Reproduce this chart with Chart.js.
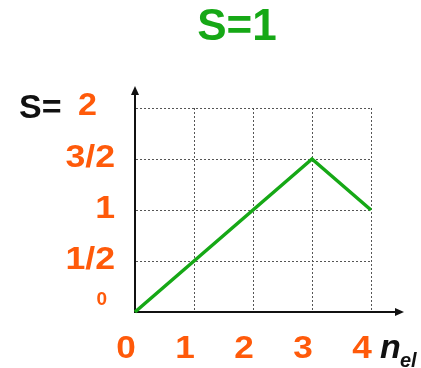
<!DOCTYPE html>
<html>
<head>
<meta charset="utf-8">
<script src="https://cdn.jsdelivr.net/npm/chart.js@4/dist/chart.umd.min.js"></script>
<style>
	html, body { margin: 0; padding: 0; background: #fff; }
	#wrap { width: 421px; height: 368px; }
</style>
</head>
<body>
<div id="wrap"><canvas id="chart" width="421" height="368"></canvas></div>
<script>
// number of electrons vs total spin
const nel = [0, 1, 2, 3, 4];
const spin = [0, 0.5, 1, 1.5, 1];

const xTicks = [0, 1, 2, 3, 4];
const yTicks = [0, 0.5, 1, 1.5, 2];
const yTickLabels = ['0', '1/2', '1', '3/2', '2'];

const titleText = 'S=1';
const yName = 'S=';
const xName = 'n';
const xNameSub = 'el';

const green = '#16a816';
const orange = '#ff5a0a';

// draws arrows, tick labels and the titles with the chart's own scales
const labelsPlugin = {
	id: 'labels',
	afterDraw(chart) {
		const { ctx, chartArea, scales } = chart;
		const x = scales.x;
		const y = scales.y;
		const x0 = x.getPixelForValue(0);
		const y0 = y.getPixelForValue(0);

		ctx.save();

		// axis arrows
		ctx.strokeStyle = '#111';
		ctx.fillStyle = '#111';
		ctx.lineWidth = 2;
		ctx.beginPath();
		ctx.moveTo(x0, chartArea.top);
		ctx.lineTo(x0, chartArea.top - 16);
		ctx.moveTo(chartArea.right, y0);
		ctx.lineTo(chartArea.right + 26, y0);
		ctx.stroke();
		ctx.beginPath();
		ctx.moveTo(x0, chartArea.top - 22);
		ctx.lineTo(x0 - 4, chartArea.top - 13);
		ctx.lineTo(x0 + 4, chartArea.top - 13);
		ctx.closePath();
		ctx.fill();
		ctx.beginPath();
		ctx.moveTo(chartArea.right + 33, y0);
		ctx.lineTo(chartArea.right + 24, y0 - 4);
		ctx.lineTo(chartArea.right + 24, y0 + 4);
		ctx.closePath();
		ctx.fill();

		// title
		ctx.fillStyle = green;
		ctx.font = 'bold 44px "Liberation Sans", Arial, sans-serif';
		ctx.textAlign = 'center';
		ctx.textBaseline = 'middle';
		ctx.fillText(titleText, 237, 28);

		// y tick labels
		ctx.fillStyle = orange;
		ctx.textBaseline = 'middle';
		yTicks.forEach((v, i) => {
			const py = y.getPixelForValue(v);
			const text = yTickLabels[i];
			ctx.save();
			if (v === 0) {
				ctx.font = 'bold 19px "Liberation Sans", Arial, sans-serif';
				ctx.textAlign = 'right';
				ctx.fillText(text, 107, py - 12);
			} else if (v === 2) {
				ctx.font = 'bold 31px "Liberation Sans", Arial, sans-serif';
				ctx.textAlign = 'right';
				ctx.translate(97, py - 2);
				ctx.scale(1.1, 1);
				ctx.fillText(text, 0, 0);
			} else {
				ctx.font = 'bold 31px "Liberation Sans", Arial, sans-serif';
				ctx.textAlign = 'right';
				ctx.translate(115, py - 1);
				ctx.scale(1.15, 1);
				ctx.fillText(text, 0, 0);
			}
			ctx.restore();
		});

		// x tick labels
		ctx.font = 'bold 32px "Liberation Sans", Arial, sans-serif';
		ctx.textAlign = 'center';
		xTicks.forEach((v) => {
			const px = x.getPixelForValue(v);
			ctx.save();
			ctx.translate(px - 9, y0 + 37);
			ctx.scale(1.1, 1);
			ctx.fillText(String(v), 0, 0);
			ctx.restore();
		});

		// axis names
		ctx.fillStyle = '#111';
		ctx.textAlign = 'left';
		ctx.font = 'bold 34px "Liberation Sans", Arial, sans-serif';
		ctx.fillText(yName, 19, chartArea.top + 1);
		ctx.font = 'bold italic 34px "Liberation Sans", Arial, sans-serif';
		ctx.textBaseline = 'alphabetic';
		ctx.fillText(xName, 380, y0 + 46);
		ctx.font = 'bold italic 20px "Liberation Sans", Arial, sans-serif';
		ctx.fillText(xNameSub, 400, y0 + 55);

		ctx.restore();
	},
};

const ctx = document.getElementById('chart').getContext('2d');
const chart = new Chart(ctx, {
	type: 'line',
	data: {
		datasets: [
			{
				data: nel.map((n, i) => ({ x: n, y: spin[i] })),
				borderColor: green,
				borderWidth: 3.5,
				pointRadius: 0,
				tension: 0,
				clip: false,
			},
		],
	},
	options: {
		responsive: false,
		animation: false,
		layout: { padding: { left: 135, right: 50, top: 108, bottom: 56 } },
		plugins: { legend: { display: false }, tooltip: { enabled: false } },
		scales: {
			x: {
				type: 'linear',
				min: 0,
				max: 4,
				ticks: { display: false, stepSize: 1 },
				grid: { color: '#555', lineWidth: 1, drawTicks: false },
				border: { display: true, color: '#111', width: 2, dash: [2, 2] },
			},
			y: {
				min: 0,
				max: 2,
				ticks: { display: false, stepSize: 0.5 },
				grid: { color: '#555', lineWidth: 1, drawTicks: false },
				border: { display: true, color: '#111', width: 2, dash: [2, 2] },
			},
		},
	},
	plugins: [labelsPlugin],
});
</script>
</body>
</html>
